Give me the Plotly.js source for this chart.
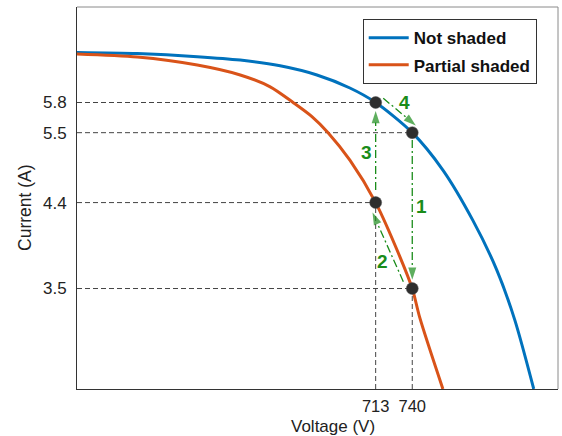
<!DOCTYPE html>
<html>
<head>
<meta charset="utf-8">
<script src="https://cdn.plot.ly/plotly-3.0.1.min.js"></script>
<style>html,body{margin:0;padding:0;background:#fff;}#chart{width:562px;height:436px;}</style>
</head>
<body>
<div id="chart"></div>
<script>
// Voltage (V) samples along each I-V curve
const notShadedV = [492.7, 537.2, 581.4, 613.1, 642.5, 669.7, 694.0, 713, 740, 762.6, 784.6, 802.3, 815.6, 829.6];
// Current on the schematic (non-linear) vertical scale, display units 0-100
const notShadedI = [88.1, 87.8, 87.0, 86.1, 84.6, 82.2, 78.8, 75.0, 67.1, 57.3, 44.2, 31.2, 18.1, 0];
const partialV = [492.7, 537.2, 581.4, 613.1, 635.2, 652.1, 666.0, 677.9, 694.0, 713, 730.9, 740, 745.6, 762.6];
const partialI = [87.7, 86.9, 84.8, 82.2, 79.1, 75.0, 71.3, 67.1, 59.9, 48.8, 34.6, 26.3, 18.6, 0];

// Tick labels on the current axis and where they sit on the schematic scale
const yTickLabels = ['3.5', '4.4', '5.5', '5.8'];
const yTickPos = [26.3, 48.8, 67.1, 75.0];
const xTickVals = [713, 740];

// Operating points: voltage, level on schematic scale
const opNotShadedV = [713, 740];
const opNotShadedI = [75.0, 67.1];   // 5.8 A, 5.5 A
const opPartialV = [713, 740];
const opPartialI = [48.8, 26.3];     // 4.4 A, 3.5 A

const stepLabels = ['1', '2', '3', '4'];

const xRange = [492.7, 847.5];
const yRange = [0, 100];

const blue = '#0072BD', orange = '#D95319', green = '#1a8c1a', dotC = '#2e2e2e', guideC = '#444';
const font = 'Arial, "Liberation Sans", sans-serif';

const traces = [];
traces.push({x: notShadedV, y: notShadedI, mode: 'lines', name: '<b>Not shaded</b>',
  line: {color: blue, width: 3, shape: 'spline', smoothing: 0.8}, legendgroup: 'a'});
traces.push({x: partialV, y: partialI, mode: 'lines', name: '<b>Partial shaded</b>',
  line: {color: orange, width: 3, shape: 'spline', smoothing: 0.8}, legendgroup: 'b'});

// step arrows (derived from operating points with small offsets)
const arrows = [
  [[opNotShadedV[1], opNotShadedV[1]], [opNotShadedI[1] - 1.9, opPartialI[1] + 2.3]],
  [[opPartialV[1] - 6.6, opPartialV[0] - 2.3], [opPartialI[1] + 1.8, opPartialI[0] - 2.6]],
  [[opPartialV[0], opNotShadedV[0]], [opPartialI[0] + 3.3, opNotShadedI[0] - 2.2]],
  [[opNotShadedV[0] + 5.6, opNotShadedV[1] + 2.6], [opNotShadedI[0] + 1.1, opNotShadedI[1] + 1.9]]
];
arrows.forEach(a => {
  traces.push({x: a[0], y: a[1], mode: 'lines+markers', showlegend: false, hoverinfo: 'skip',
    line: {color: green, width: 1.3, dash: '8px,3px,2px,3px'},
    marker: {symbol: 'arrow', angleref: 'previous', size: [0, 13], color: green, line: {width: 0}}});
});

traces.push({x: opNotShadedV.concat(opPartialV), y: opNotShadedI.concat(opPartialI), mode: 'markers',
  showlegend: false, marker: {color: dotC, size: 12, line: {color: '#555', width: 0.5}}});

const shapes = [];
const allV = opNotShadedV.concat(opPartialV), allI = opNotShadedI.concat(opPartialI);
allV.forEach((v, i) => {
  shapes.push({type: 'line', xref: 'x', yref: 'y', x0: xRange[0], x1: v, y0: allI[i], y1: allI[i],
    line: {color: guideC, width: 1, dash: '5px,3px'}, layer: 'below'});
});
opPartialV.forEach((v, i) => {
  shapes.push({type: 'line', xref: 'x', yref: 'y', x0: v, x1: v, y0: yRange[0], y1: opPartialI[i],
    line: {color: guideC, width: 1, dash: '5px,3px'}, layer: 'below'});
});
shapes.push({type: 'line', xref: 'paper', yref: 'paper', x0: 0, x1: 1, y0: 1, y1: 1, line: {color: '#8a8a8a', width: 1}});
shapes.push({type: 'line', xref: 'paper', yref: 'paper', x0: 1, x1: 1, y0: 0, y1: 1, line: {color: '#8a8a8a', width: 1}});

const labelPos = [[746.9, 47.7], [718.2, 33.5], [706.6, 61.8], [734.6, 74.9]];
const annotations = stepLabels.map((t, i) => ({x: labelPos[i][0], y: labelPos[i][1], xref: 'x', yref: 'y',
  text: '<b>' + t + '</b>', showarrow: false, font: {family: font, size: 19, color: green}}));
annotations.push({text: 'Voltage (V)', xref: 'paper', yref: 'paper', x: 0.532, y: -0.099, xanchor: 'center', yanchor: 'middle',
  showarrow: false, font: {family: font, size: 17, color: '#222'}});
annotations.push({text: 'Current (A)', xref: 'paper', yref: 'paper', x: -0.108, y: 0.474, textangle: -90,
  xanchor: 'center', yanchor: 'middle', showarrow: false, font: {family: font, size: 17.5, color: '#222'}});

const layout = {
  width: 562, height: 436,
  margin: {l: 77, r: 4, t: 7, b: 47},
  paper_bgcolor: '#fff', plot_bgcolor: '#fff',
  font: {family: font, size: 17, color: '#222'},
  showlegend: true,
  legend: {x: 0.594, y: 0.968, xanchor: 'left', yanchor: 'top', bgcolor: '#fff', bordercolor: '#333', borderwidth: 1,
    font: {family: font, size: 17, color: '#111'}, traceorder: 'grouped', tracegroupgap: 2,
    itemwidth: 40, entrywidth: 180},
  xaxis: {range: xRange, tickvals: xTickVals, ticktext: xTickVals.map(String), showgrid: false, zeroline: false,
    showline: true, linecolor: '#333', linewidth: 1, ticks: '', ticklabelstandoff: 2,
    tickfont: {family: font, size: 16.5, color: '#222'}, fixedrange: true},
  yaxis: {range: yRange, tickvals: yTickPos, ticktext: yTickLabels, showgrid: false, zeroline: false,
    showline: true, linecolor: '#333', linewidth: 1, ticks: '', ticklabelstandoff: 6,
    tickfont: {family: font, size: 17, color: '#222'}, fixedrange: true},
  shapes: shapes, annotations: annotations
};
Plotly.newPlot('chart', traces, layout, {displayModeBar: false, staticPlot: true});
</script>
</body>
</html>
